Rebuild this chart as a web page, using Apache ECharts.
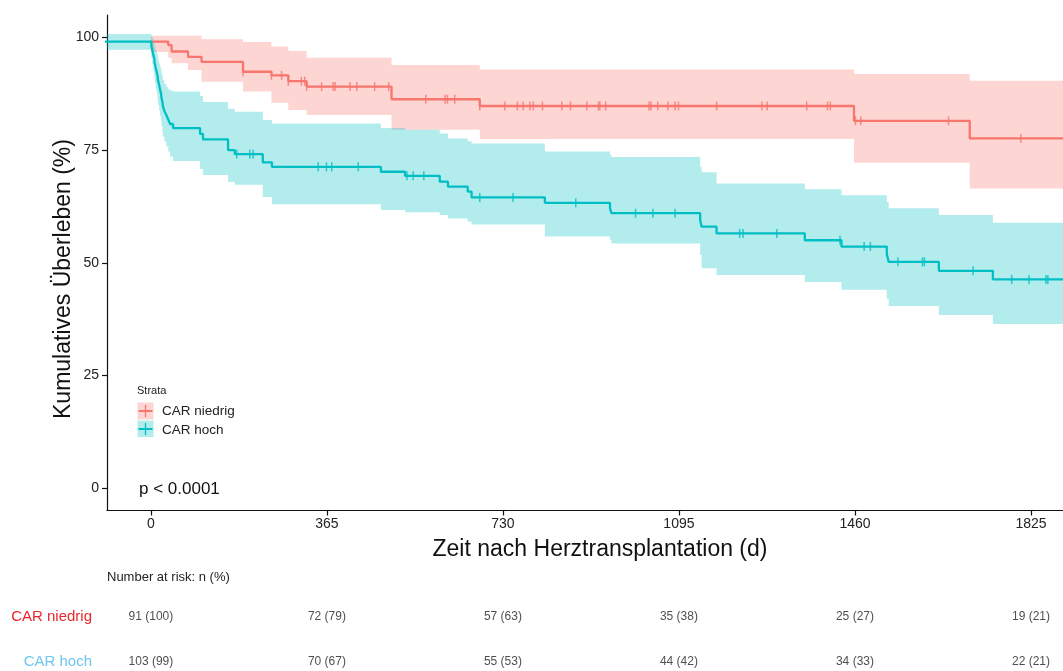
<!DOCTYPE html>
<html>
<head>
<meta charset="utf-8">
<script src="https://cdn.jsdelivr.net/npm/echarts@6/dist/echarts.min.js"></script>
<style>
html,body{margin:0;padding:0;background:#fff;}
#chart{width:1063px;height:671px;}
</style>
</head>
<body>
<div id="chart"></div>
<script>
// ---------------- DATA ----------------
const xTicks = [0, 365, 730, 1095, 1460, 1825];
const yTicks = [0, 25, 50, 75, 100];
const groups = ['CAR niedrig', 'CAR hoch'];

// CAR niedrig (red): step times (days), survival (%), CI bounds
const lowTime  = [0, 36, 43, 77, 105, 191, 250, 285, 323, 499, 682, 1458, 1698];
const lowSurv  = [99.1, 98.3, 96.9, 95.7, 94.6, 92.4, 91.6, 90.3, 89.1, 86.3, 84.8, 81.5, 77.6];
const lowUpper = [100.4, 100.4, 100.4, 100.4, 99.6, 99.0, 98.0, 97.0, 95.5, 93.9, 92.9, 91.9, 90.4];
const lowLower = [96.8, 95.5, 94.3, 92.8, 90.2, 88.0, 85.5, 83.9, 82.8, 79.5, 77.5, 72.2, 66.5];
const lowCensor = [191, 250, 271, 285, 312, 319, 323, 354, 378, 382, 413, 427, 464, 493, 570, 610, 615, 630,
  682, 734, 760, 772, 786, 793, 812, 852, 870, 904, 928, 931, 943, 1033, 1037, 1051, 1072, 1087, 1094,
  1173, 1267, 1278, 1360, 1403, 1409, 1461, 1472, 1654, 1804];

// CAR hoch (cyan)
const highTime  = [-100, 1, 3, 5, 7, 8, 10, 12, 14, 15, 17, 19, 21, 22, 24, 25, 28, 32, 36, 40, 46,
  102, 108, 160, 174, 232, 251, 477, 527, 599, 616, 657, 665, 817, 952, 955, 1139, 1142, 1173,
  1356, 1432, 1526, 1530, 1634, 1746];
const highSurv  = [99.1, 98.1, 97.2, 96.2, 95.3, 94.3, 93.3, 92.4, 91.4, 90.4, 89.5, 88.5, 87.6, 86.6, 85.6, 84.7, 83.7, 82.8, 81.8, 80.8, 79.9,
  78.6, 77.4, 75.0, 74.1, 72.3, 71.3, 70.2, 69.3, 68.0, 66.9, 65.8, 64.5, 63.3, 62.1, 61.0, 59.5, 58.0, 56.5,
  55.0, 53.6, 51.9, 50.2, 48.2, 46.3];
const highUpper = [100.8, 100.3, 99.8, 99.2, 98.6, 98.0, 97.2, 96.5, 95.8, 95.0, 94.3, 93.5, 92.8, 92.0, 91.2, 90.5, 89.7, 89.0, 88.5, 88.2, 88.0,
  87.0, 85.7, 84.2, 83.5, 81.7, 80.9, 79.9, 79.5, 78.7, 77.6, 77.0, 76.5, 74.7, 74.0, 73.5, 71.3, 70.1, 67.6,
  66.3, 65.0, 63.5, 62.1, 60.6, 58.9];
const highLower = [97.3, 95.5, 94.0, 92.6, 91.3, 90.0, 88.7, 87.5, 86.2, 85.0, 83.8, 82.6, 81.4, 80.3, 79.1, 78.0, 76.9, 75.8, 74.7, 73.6, 72.6,
  70.8, 69.5, 67.9, 67.3, 64.6, 63.0, 61.7, 61.2, 60.6, 59.8, 59.1, 58.5, 55.8, 55.0, 54.3, 51.7, 48.8, 47.3,
  45.7, 44.0, 42.0, 40.4, 38.4, 36.4];
const highCensor = [178, 205, 212, 347, 364, 375, 430, 531, 544, 566, 682, 751, 881, 1005, 1041, 1087,
  1221, 1228, 1298, 1429, 1479, 1492, 1549, 1600, 1604, 1705, 1785, 1821, 1856, 1860];

// Number at risk
const riskTimes = [0, 365, 730, 1095, 1460, 1825];
const riskLowN   = [91, 72, 57, 35, 25, 19];
const riskLowPct = [100, 79, 63, 38, 27, 21];
const riskHighN   = [103, 70, 55, 44, 34, 22];
const riskHighPct = [99, 67, 53, 42, 33, 21];

// ---------------- STYLE / HELPERS ----------------
const RED = '#F8766D', CYAN = '#00BFC4';
const RED_FILL = 'rgba(248,118,109,0.3)', CYAN_FILL = 'rgba(0,191,196,0.3)';
const xMin = -91, xMax = 1891.4;
const FONT = "'Liberation Sans', Arial, sans-serif";
// risk table rows: index 1 = CAR niedrig (top), 0 = CAR hoch (bottom)
const rowIndex = { 'CAR niedrig': 1, 'CAR hoch': 0 };

function stepLine(times, surv) {
  const d = times.map((t, i) => [t, surv[i]]);
  d.push([xMax + 20, surv[surv.length - 1]]);
  return d;
}
function survAt(times, surv, t) {
  let v = surv[0];
  for (let i = 0; i < times.length; i++) { if (times[i] <= t) v = surv[i]; }
  return v;
}
function bandRender(times, up, lo, fill) {
  return function (params, api) {
    if (params.dataIndex !== 0) return;
    const n = times.length;
    const cl = t => Math.min(Math.max(t, xMin), xMax);
    const pts = [];
    for (let i = 0; i < n; i++) {
      const t0 = cl(times[i]), t1 = cl(i < n - 1 ? times[i + 1] : xMax);
      pts.push(api.coord([t0, up[i]]), api.coord([t1, up[i]]));
    }
    for (let i = n - 1; i >= 0; i--) {
      const t0 = cl(times[i]), t1 = cl(i < n - 1 ? times[i + 1] : xMax);
      pts.push(api.coord([t1, lo[i]]), api.coord([t0, lo[i]]));
    }
    return { type: 'polygon', shape: { points: pts }, style: { fill: fill, stroke: null } };
  };
}

const chart = echarts.init(document.getElementById('chart'), null, { renderer: 'canvas' });

const riskLowData = riskTimes.map((t, i) => [t, rowIndex['CAR niedrig'], riskLowN[i], riskLowPct[i]]);
const riskHighData = riskTimes.map((t, i) => [t, rowIndex['CAR hoch'], riskHighN[i], riskHighPct[i]]);

const option = {
  animation: false,
  backgroundColor: '#fff',
  textStyle: { fontFamily: FONT },
  grid: [
    { left: 107, right: 0, top: 15, height: 495.5, containLabel: false },
    { left: 107, right: 0, top: 594, height: 77, containLabel: false }
  ],
  xAxis: [
    {
      type: 'value', gridIndex: 0, min: xMin, max: xMax,
      axisLine: { show: true, onZero: false, lineStyle: { color: '#111', width: 1.2 } },
      axisTick: { show: true, length: 5, customValues: xTicks, lineStyle: { color: '#111', width: 1.2 } },
      axisLabel: { customValues: xTicks, fontSize: 14, color: '#222', margin: 7, fontFamily: FONT,
        formatter: v => String(v) },
      splitLine: { show: false }
    },
    { type: 'value', gridIndex: 1, min: xMin, max: xMax, show: false }
  ],
  yAxis: [
    {
      type: 'value', gridIndex: 0, min: -5, max: 105,
      axisLine: { show: true, onZero: false, lineStyle: { color: '#111', width: 1.2 } },
      axisTick: { show: true, length: 5, customValues: yTicks, lineStyle: { color: '#111', width: 1.2 } },
      axisLabel: { customValues: yTicks, fontSize: 14, color: '#222', margin: 8, fontFamily: FONT,
        formatter: v => String(v) },
      splitLine: { show: false }
    },
    {
      type: 'value', gridIndex: 1, min: -0.21, max: 1.5,
      axisLine: { show: false }, axisTick: { show: false },
      axisLabel: {
        customValues: [0, 1], fontSize: 15, margin: 15, fontFamily: FONT,
        formatter: v => (Number(v) > 0.5 ? groups[0] : groups[1]),
        color: function (v) {
          const s = String(v);
          const top = (s === groups[0]) || (Number(s) > 0.5);
          return top ? '#E8262B' : '#6DC8EE';
        }
      },
      splitLine: { show: false }
    }
  ],
  series: [
    { type: 'custom', xAxisIndex: 0, yAxisIndex: 0, silent: true, z: 1,
      renderItem: bandRender(lowTime, lowUpper, lowLower, RED_FILL), data: [[0, 0]] },
    { type: 'custom', xAxisIndex: 0, yAxisIndex: 0, silent: true, z: 1,
      renderItem: bandRender(highTime, highUpper, highLower, CYAN_FILL), data: [[0, 0]] },
    { type: 'line', name: 'CAR niedrig', xAxisIndex: 0, yAxisIndex: 0, step: 'end', showSymbol: false, symbol: 'none', clip: true, z: 3,
      lineStyle: { color: RED, width: 2.3 }, data: stepLine(lowTime, lowSurv) },
    { type: 'line', name: 'CAR hoch', xAxisIndex: 0, yAxisIndex: 0, step: 'end', showSymbol: false, symbol: 'none', clip: true, z: 4,
      lineStyle: { color: CYAN, width: 2.3 }, data: stepLine(highTime, highSurv) },
    { type: 'scatter', xAxisIndex: 0, yAxisIndex: 0, symbol: 'rect', symbolSize: [1.5, 9], z: 5, silent: true,
      itemStyle: { color: RED }, data: lowCensor.map(t => [t, survAt(lowTime, lowSurv, t)]) },
    { type: 'scatter', xAxisIndex: 0, yAxisIndex: 0, symbol: 'rect', symbolSize: [1.5, 9], z: 5, silent: true,
      itemStyle: { color: CYAN }, data: highCensor.map(t => [t, survAt(highTime, highSurv, t)]) },
    { type: 'scatter', xAxisIndex: 1, yAxisIndex: 1, symbolSize: 0, silent: true,
      label: { show: true, position: 'inside', fontSize: 12, color: '#222', fontFamily: FONT,
        formatter: p => p.value[2] + ' (' + p.value[3] + ')' },
      data: riskLowData.concat(riskHighData) }
  ],
  graphic: [
    { type: 'text', x: 64, y: 279, rotation: Math.PI / 2, style: { text: 'Kumulatives Überleben (%)', font: "23px " + FONT, fill: '#111', textAlign: 'center', textVerticalAlign: 'middle' } },
    { type: 'text', x: 600, y: 550, style: { text: 'Zeit nach Herztransplantation (d)', font: "23px " + FONT, fill: '#111', textAlign: 'center', textVerticalAlign: 'middle' } },
    { type: 'text', x: 107, y: 577, style: { text: 'Number at risk: n (%)', font: "13px " + FONT, fill: '#222', textAlign: 'left', textVerticalAlign: 'middle' } },
    { type: 'text', x: 139, y: 489, style: { text: 'p < 0.0001', font: "17px " + FONT, fill: '#111', textAlign: 'left', textVerticalAlign: 'middle' } },
    { type: 'text', x: 137, y: 391, style: { text: 'Strata', font: "11px " + FONT, fill: '#222', textAlign: 'left', textVerticalAlign: 'middle' } },
    { type: 'rect', shape: { x: 137.5, y: 402.5, width: 16, height: 17 }, style: { fill: RED_FILL } },
    { type: 'line', shape: { x1: 138.5, y1: 411, x2: 152.5, y2: 411 }, style: { stroke: RED, lineWidth: 2 } },
    { type: 'line', shape: { x1: 145.5, y1: 405, x2: 145.5, y2: 417 }, style: { stroke: RED, lineWidth: 1.3 } },
    { type: 'rect', shape: { x: 137.5, y: 420.5, width: 16, height: 16.5 }, style: { fill: CYAN_FILL } },
    { type: 'line', shape: { x1: 138.5, y1: 429, x2: 152.5, y2: 429 }, style: { stroke: CYAN, lineWidth: 2 } },
    { type: 'line', shape: { x1: 145.5, y1: 423, x2: 145.5, y2: 435 }, style: { stroke: CYAN, lineWidth: 1.3 } },
    { type: 'text', x: 162, y: 411, style: { text: 'CAR niedrig', font: "13.5px " + FONT, fill: '#222', textAlign: 'left', textVerticalAlign: 'middle' } },
    { type: 'text', x: 162, y: 430, style: { text: 'CAR hoch', font: "13.5px " + FONT, fill: '#222', textAlign: 'left', textVerticalAlign: 'middle' } }
  ]
};
chart.setOption(option);
</script>
</body>
</html>
